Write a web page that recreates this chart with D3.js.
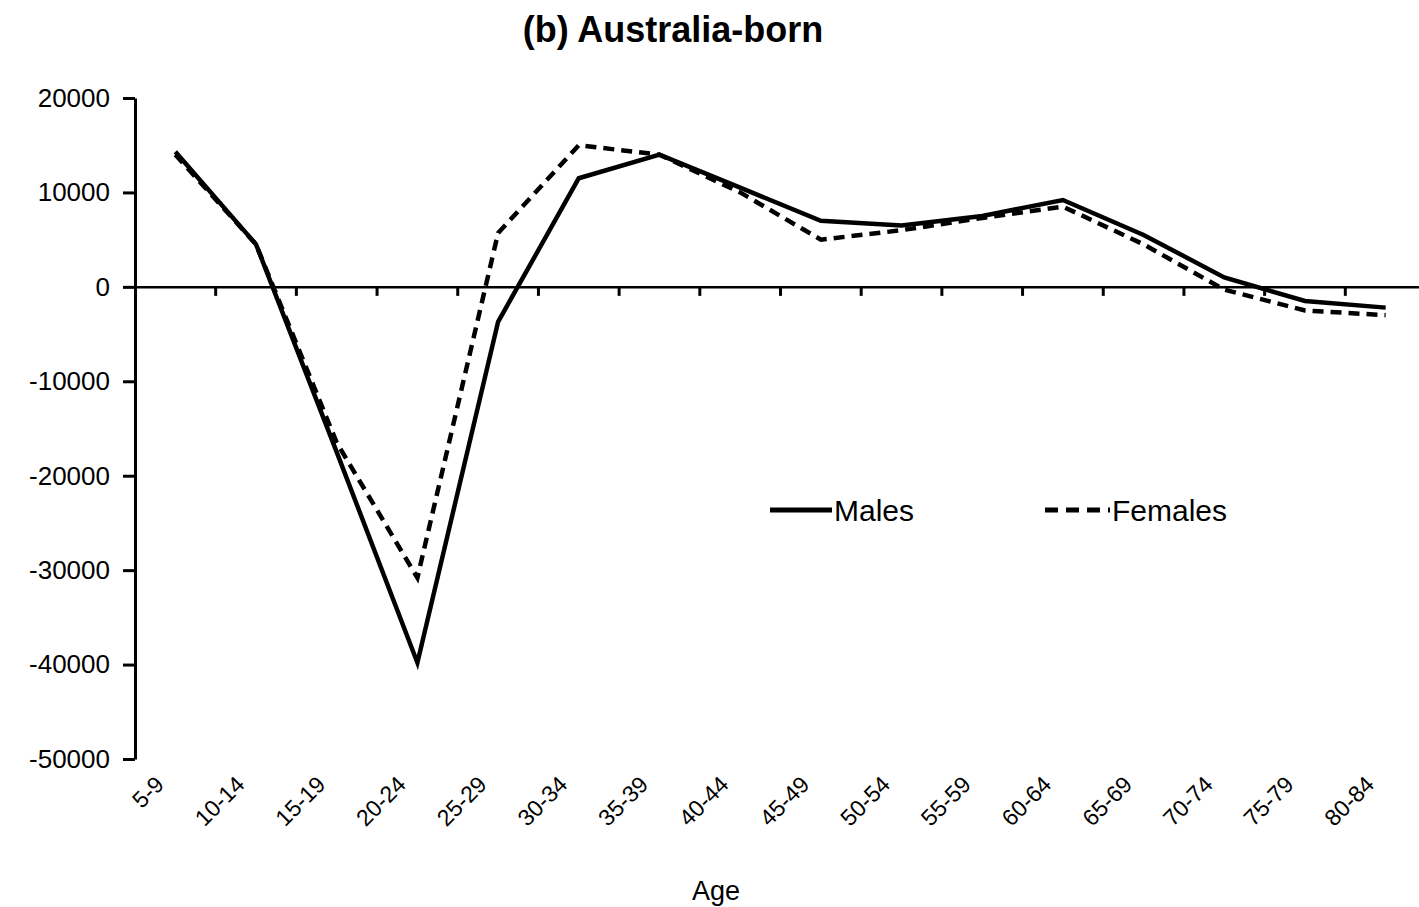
<!doctype html>
<html>
<head>
<meta charset="UTF-8">
<title>Australia-born</title>
<style>
  body { margin: 0; background: #fff; }
  text { font-family: "Liberation Sans", Arial, sans-serif; fill: #000; }
</style>
<script src="https://d3js.org/d3.v7.min.js"></script>
</head>
<body>
<svg id="chart" width="1419" height="907"></svg>
<script>
// data
var ages = ["5-9","10-14","15-19","20-24","25-29","30-34","35-39","40-44",
            "45-49","50-54","55-59","60-64","65-69","70-74","75-79","80-84"];
var males   = [14300, 4500, -17500, -39800, -3700, 11500, 14000, 10500,
               7000, 6500, 7500, 9200, 5500, 1000, -1500, -2200];
var females = [14000, 4500, -16500, -30800, 5700, 15000, 14000, 10000,
               5000, 6000, 7300, 8500, 4500, -300, -2500, -3000];
var yTicks = [20000, 10000, 0, -10000, -20000, -30000, -40000, -50000];

var svg = d3.select("#chart");

var x = d3.scaleBand().domain(ages).range([135, 1426]);
var y = d3.scaleLinear().domain([-50000, 20000]).range([759, 98]);

// title
svg.append("text")
  .attr("x", 673).attr("y", 42)
  .attr("text-anchor", "middle")
  .attr("font-size", "36px")
  .attr("font-weight", "bold")
  .text("(b) Australia-born");

// y axis
var yAxis = svg.append("g")
  .attr("transform", "translate(135,0)")
  .call(d3.axisLeft(y).tickValues(yTicks).tickSize(12).tickSizeOuter(0)
    .tickFormat(function(d) { return String(d); }));
yAxis.select(".domain").attr("stroke-width", 3);
yAxis.selectAll(".tick line").attr("stroke-width", 3);
yAxis.selectAll(".tick text")
  .attr("x", -25)
  .attr("font-size", "26px")
  .attr("font-family", "Liberation Sans, Arial, sans-serif");

// x axis on the zero line
var xAxis = svg.append("g")
  .attr("transform", "translate(0," + y(0) + ")")
  .call(d3.axisBottom(x).tickSize(0).tickSizeOuter(0));
xAxis.select(".domain").attr("stroke-width", 2.5);
xAxis.selectAll(".tick text").remove();

// category boundary ticks
svg.append("g").selectAll("line")
  .data(ages.slice(1))
  .enter().append("line")
    .attr("x1", function(d) { return x(d); })
    .attr("x2", function(d) { return x(d); })
    .attr("y1", y(0))
    .attr("y2", y(0) + 9)
    .attr("stroke", "#000")
    .attr("stroke-width", 3);

// rotated category labels
svg.append("g").selectAll("text")
  .data(ages)
  .enter().append("text")
    .attr("transform", function(d) {
      return "translate(" + (x(d) + x.bandwidth() / 2 - 10) + ",786) rotate(-45)";
    })
    .attr("text-anchor", "end")
    .attr("font-size", "23px")
    .text(function(d) { return d; });

// x title
svg.append("text")
  .attr("x", 716).attr("y", 900)
  .attr("text-anchor", "middle")
  .attr("font-size", "27px")
  .text("Age");

// lines
var line = d3.line()
  .x(function(d, i) { return x(ages[i]) + x.bandwidth() / 2; })
  .y(function(d) { return y(d); });

svg.append("path")
  .datum(males)
  .attr("d", line)
  .attr("fill", "none")
  .attr("stroke", "#000")
  .attr("stroke-width", 4.5);

svg.append("path")
  .datum(females)
  .attr("d", line)
  .attr("fill", "none")
  .attr("stroke", "#000")
  .attr("stroke-width", 4.5)
  .attr("stroke-dasharray", "11,7");

// legend
svg.append("line")
  .attr("x1", 770).attr("x2", 832).attr("y1", 510).attr("y2", 510)
  .attr("stroke", "#000").attr("stroke-width", 5);
svg.append("text")
  .attr("x", 834).attr("y", 521)
  .attr("font-size", "30px")
  .text("Males");

svg.append("line")
  .attr("x1", 1045).attr("x2", 1110).attr("y1", 510).attr("y2", 510)
  .attr("stroke", "#000").attr("stroke-width", 5)
  .attr("stroke-dasharray", "13,8");
svg.append("text")
  .attr("x", 1112).attr("y", 521)
  .attr("font-size", "30px")
  .text("Females");
</script>
</body>
</html>
